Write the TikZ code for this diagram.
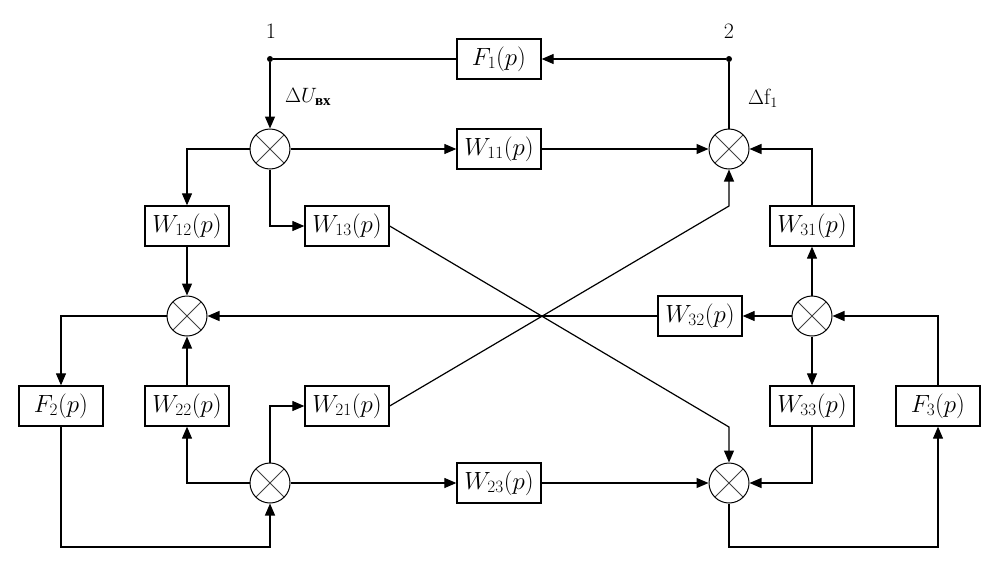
\documentclass[tikz,border=0pt]{standalone}
\usepackage{fontspec}
\newfontfamily\cyrfont{Liberation Serif}
\usetikzlibrary{arrows.meta}
\begin{document}
\begin{tikzpicture}[x=1pt,y=-1pt,
  blk/.style={draw,line width=1.3pt,minimum width=84pt,minimum height=40pt,inner sep=0pt,font=\fontsize{23}{23}\selectfont},
  sum/.style={circle,draw,line width=1pt,minimum size=40pt,inner sep=0pt,
    path picture={\draw[line width=1pt,black!75] (path picture bounding box.north west)--(path picture bounding box.south east)
      (path picture bounding box.north east)--(path picture bounding box.south west);}},
  ar/.style={-{Triangle[length=12pt,width=10pt]}},
  ln/.style={line width=1.2pt},
  dotn/.style={circle,fill,inner sep=0pt,minimum size=6pt},
  lab/.style={font=\fontsize{22}{22}\selectfont,inner sep=0pt}]
\useasboundingbox (0,0) rectangle (1004,568);
% nodes
\node[dotn] (n1) at (270,59) {};
\node[dotn] (n2) at (729,59) {};
\node[lab] (l1) at (271,31) {1};
\node[lab] (l2) at (729,31) {2};
\node[lab,anchor=west] (lu) at (285,97) {$\Delta U_{\mbox{\cyrfont\bfseries\fontsize{15}{15}\selectfont вх}}$};
\node[lab,anchor=west] (lf) at (748,98) {$\Delta\mathrm{f}_1$};
\node[blk] (F1) at (499,59) {$F_1(p)$};
\node[sum] (S1) at (270,149) {};
\node[sum] (S2) at (729,149) {};
\node[blk] (W11) at (499,149) {$W_{11}(p)$};
\node[blk] (W12) at (187,226) {$W_{12}(p)$};
\node[blk] (W13) at (347,226) {$W_{13}(p)$};
\node[blk] (W31) at (812,226) {$W_{31}(p)$};
\node[sum] (S3) at (187,316) {};
\node[sum] (S4) at (812,316) {};
\node[blk] (W32) at (700,316) {$W_{32}(p)$};
\node[blk] (F2) at (61,406) {$F_2(p)$};
\node[blk] (W22) at (187,406) {$W_{22}(p)$};
\node[blk] (W21) at (347,406) {$W_{21}(p)$};
\node[blk] (W33) at (812,406) {$W_{33}(p)$};
\node[blk] (F3) at (938,406) {$F_3(p)$};
\node[sum] (S5) at (270,483) {};
\node[sum] (S6) at (729,483) {};
\node[blk] (W23) at (499,483) {$W_{23}(p)$};
\coordinate (c13) at (729,427);
\coordinate (c21) at (729,206);
\coordinate (b2) at (61,547);
\coordinate (b6) at (729,547);
% connectors
\draw[ln,ar] (n2) -- (F1);
\draw[ln] (F1) -- (n1);
\draw[ln,ar] (n1) -- (S1);
\draw[ln] (S2) -- (n2);
\draw[ln,ar] (S1) -- (W11);
\draw[ln,ar] (W11) -- (S2);
\draw[ln,ar] (S1.west) -| (W12.north);
\draw[ln,ar] (S1.south) |- (W13.west);
\draw[ln,ar] (W12) -- (S3);
\draw[ln,ar] (W13.east) -- (c13) -- (S6.north);
\draw[ln,ar] (W21.east) -- (c21) -- (S2.south);
\draw[ln,ar] (W31.north) |- (S2.east);
\draw[ln,ar] (S4.north) -- (W31.south);
\draw[ln,ar] (S4.west) -- (W32.east);
\draw[ln,ar] (W32.west) -- (S3.east);
\draw[ln,ar] (S4.south) -- (W33.north);
\draw[ln,ar] (W33.south) |- (S6.east);
\draw[ln,ar] (F3.north) |- (S4.east);
\draw[ln,ar] (S6.south) -- (b6) -| (F3.south);
\draw[ln,ar] (S3.west) -| (F2.north);
\draw[ln,ar] (F2.south) -- (b2) -| (S5.south);
\draw[ln,ar] (S5.west) -| (W22.south);
\draw[ln,ar] (W22) -- (S3);
\draw[ln,ar] (S5.north) |- (W21.west);
\draw[ln,ar] (S5) -- (W23);
\draw[ln,ar] (W23) -- (S6);
\end{tikzpicture}
\end{document}
